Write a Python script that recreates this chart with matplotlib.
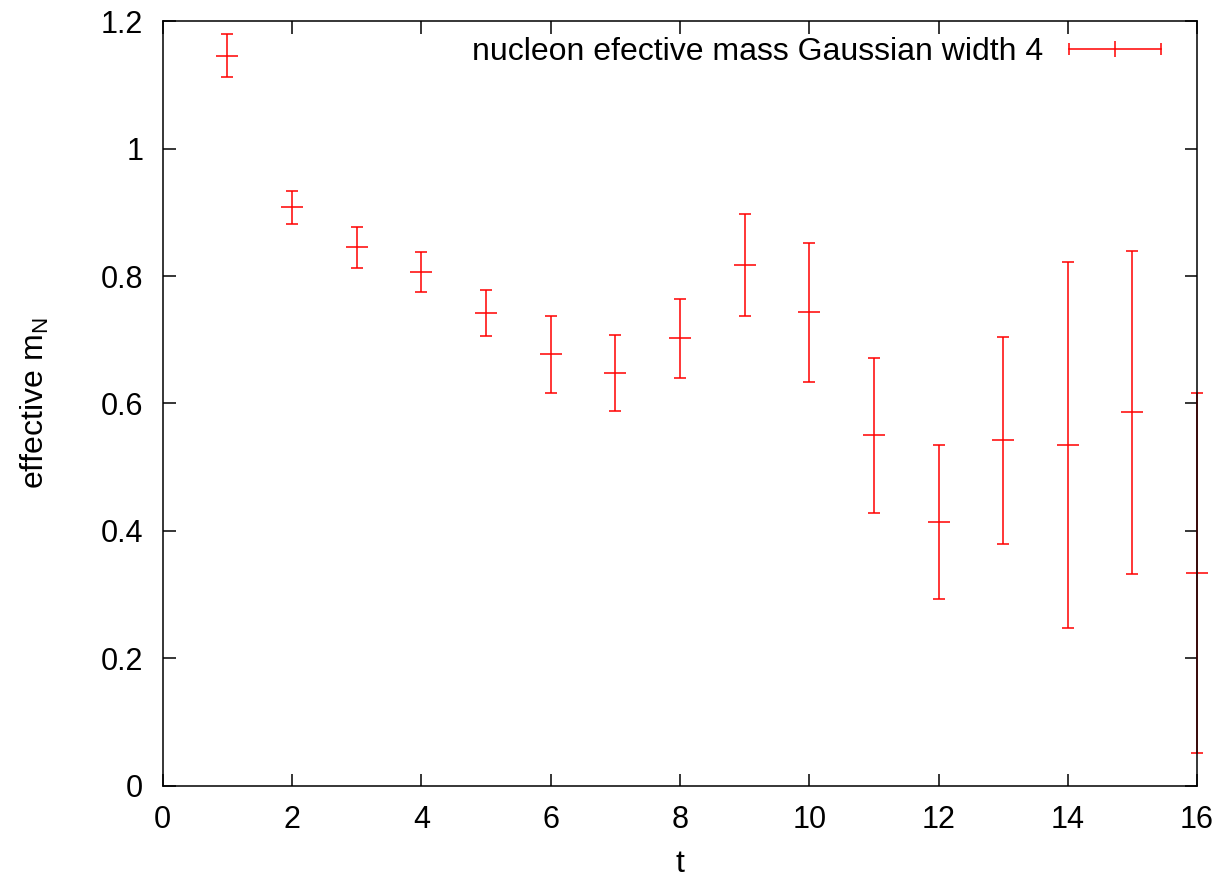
import matplotlib
matplotlib.use("Agg")
from matplotlib import pyplot as plt
from matplotlib.lines import Line2D
from matplotlib.legend_handler import HandlerLine2D
import numpy as np

plt.rcParams['font.family'] = ['Liberation Sans', 'DejaVu Sans']

t = [1, 2, 3, 4, 5, 6, 7, 8, 9, 10, 11, 12, 13, 14, 15, 16]
m_eff = [1.146, 0.908, 0.845, 0.806, 0.742, 0.677, 0.648, 0.702,
         0.817, 0.743, 0.550, 0.414, 0.542, 0.535, 0.586, 0.334]
m_err = [0.034, 0.026, 0.032, 0.031, 0.036, 0.061, 0.060, 0.062,
         0.080, 0.109, 0.122, 0.121, 0.162, 0.287, 0.253, 0.283]

label = 'nucleon efective mass Gaussian width 4'

fig = plt.figure(figsize=(12.24, 8.81), dpi=100)
ax = fig.add_axes([0.133, 0.108, 0.845, 0.868])

eb = ax.errorbar(t, m_eff, yerr=m_err, fmt='none', ecolor='red',
                 elinewidth=1.1, capsize=4, capthick=1.1)
for part in eb.lines[1] + eb.lines[2]:
    part.set_clip_on(False)
ax.plot(t, m_eff, linestyle='none', marker='_', markersize=16,
        markeredgewidth=1.1, color='red', clip_on=False)

ax.set_xlim(0, 16)
ax.set_ylim(0, 1.2)
ax.set_xticks(np.arange(0, 17, 2))
ax.set_yticks([0, 0.2, 0.4, 0.6, 0.8, 1.0, 1.2])
ax.set_yticklabels(['0', '0.2', '0.4', '0.6', '0.8', '1', '1.2'])
ax.tick_params(direction='in', length=9, width=1.1, labelsize=22,
               top=True, right=True, pad=14)
for s in ax.spines.values():
    s.set_linewidth(1.1)

ax.set_xlabel('t', fontsize=23, labelpad=10)
ax.set_ylabel('effective m$_\\mathregular{N}$', fontsize=23, labelpad=36)

# gnuplot-style legend sample: horizontal bar with end caps and a centre tick
h_line = Line2D([], [], color='red', lw=1.1, marker='|', markersize=8,
                markeredgewidth=1.1)
h_mid = Line2D([], [], color='red', linestyle='none', marker='|',
               markersize=12, markeredgewidth=1.1)
ax.legend([(h_line, h_mid)], [label], loc='upper right', frameon=False,
          bbox_to_anchor=(0.99, 1.0),
          fontsize=23, handlelength=3.5, handletextpad=0.5, markerfirst=False,
          numpoints=2, borderaxespad=0.1,
          handler_map={h_mid: HandlerLine2D(numpoints=1)})

fig.savefig('out.png', dpi=100)
